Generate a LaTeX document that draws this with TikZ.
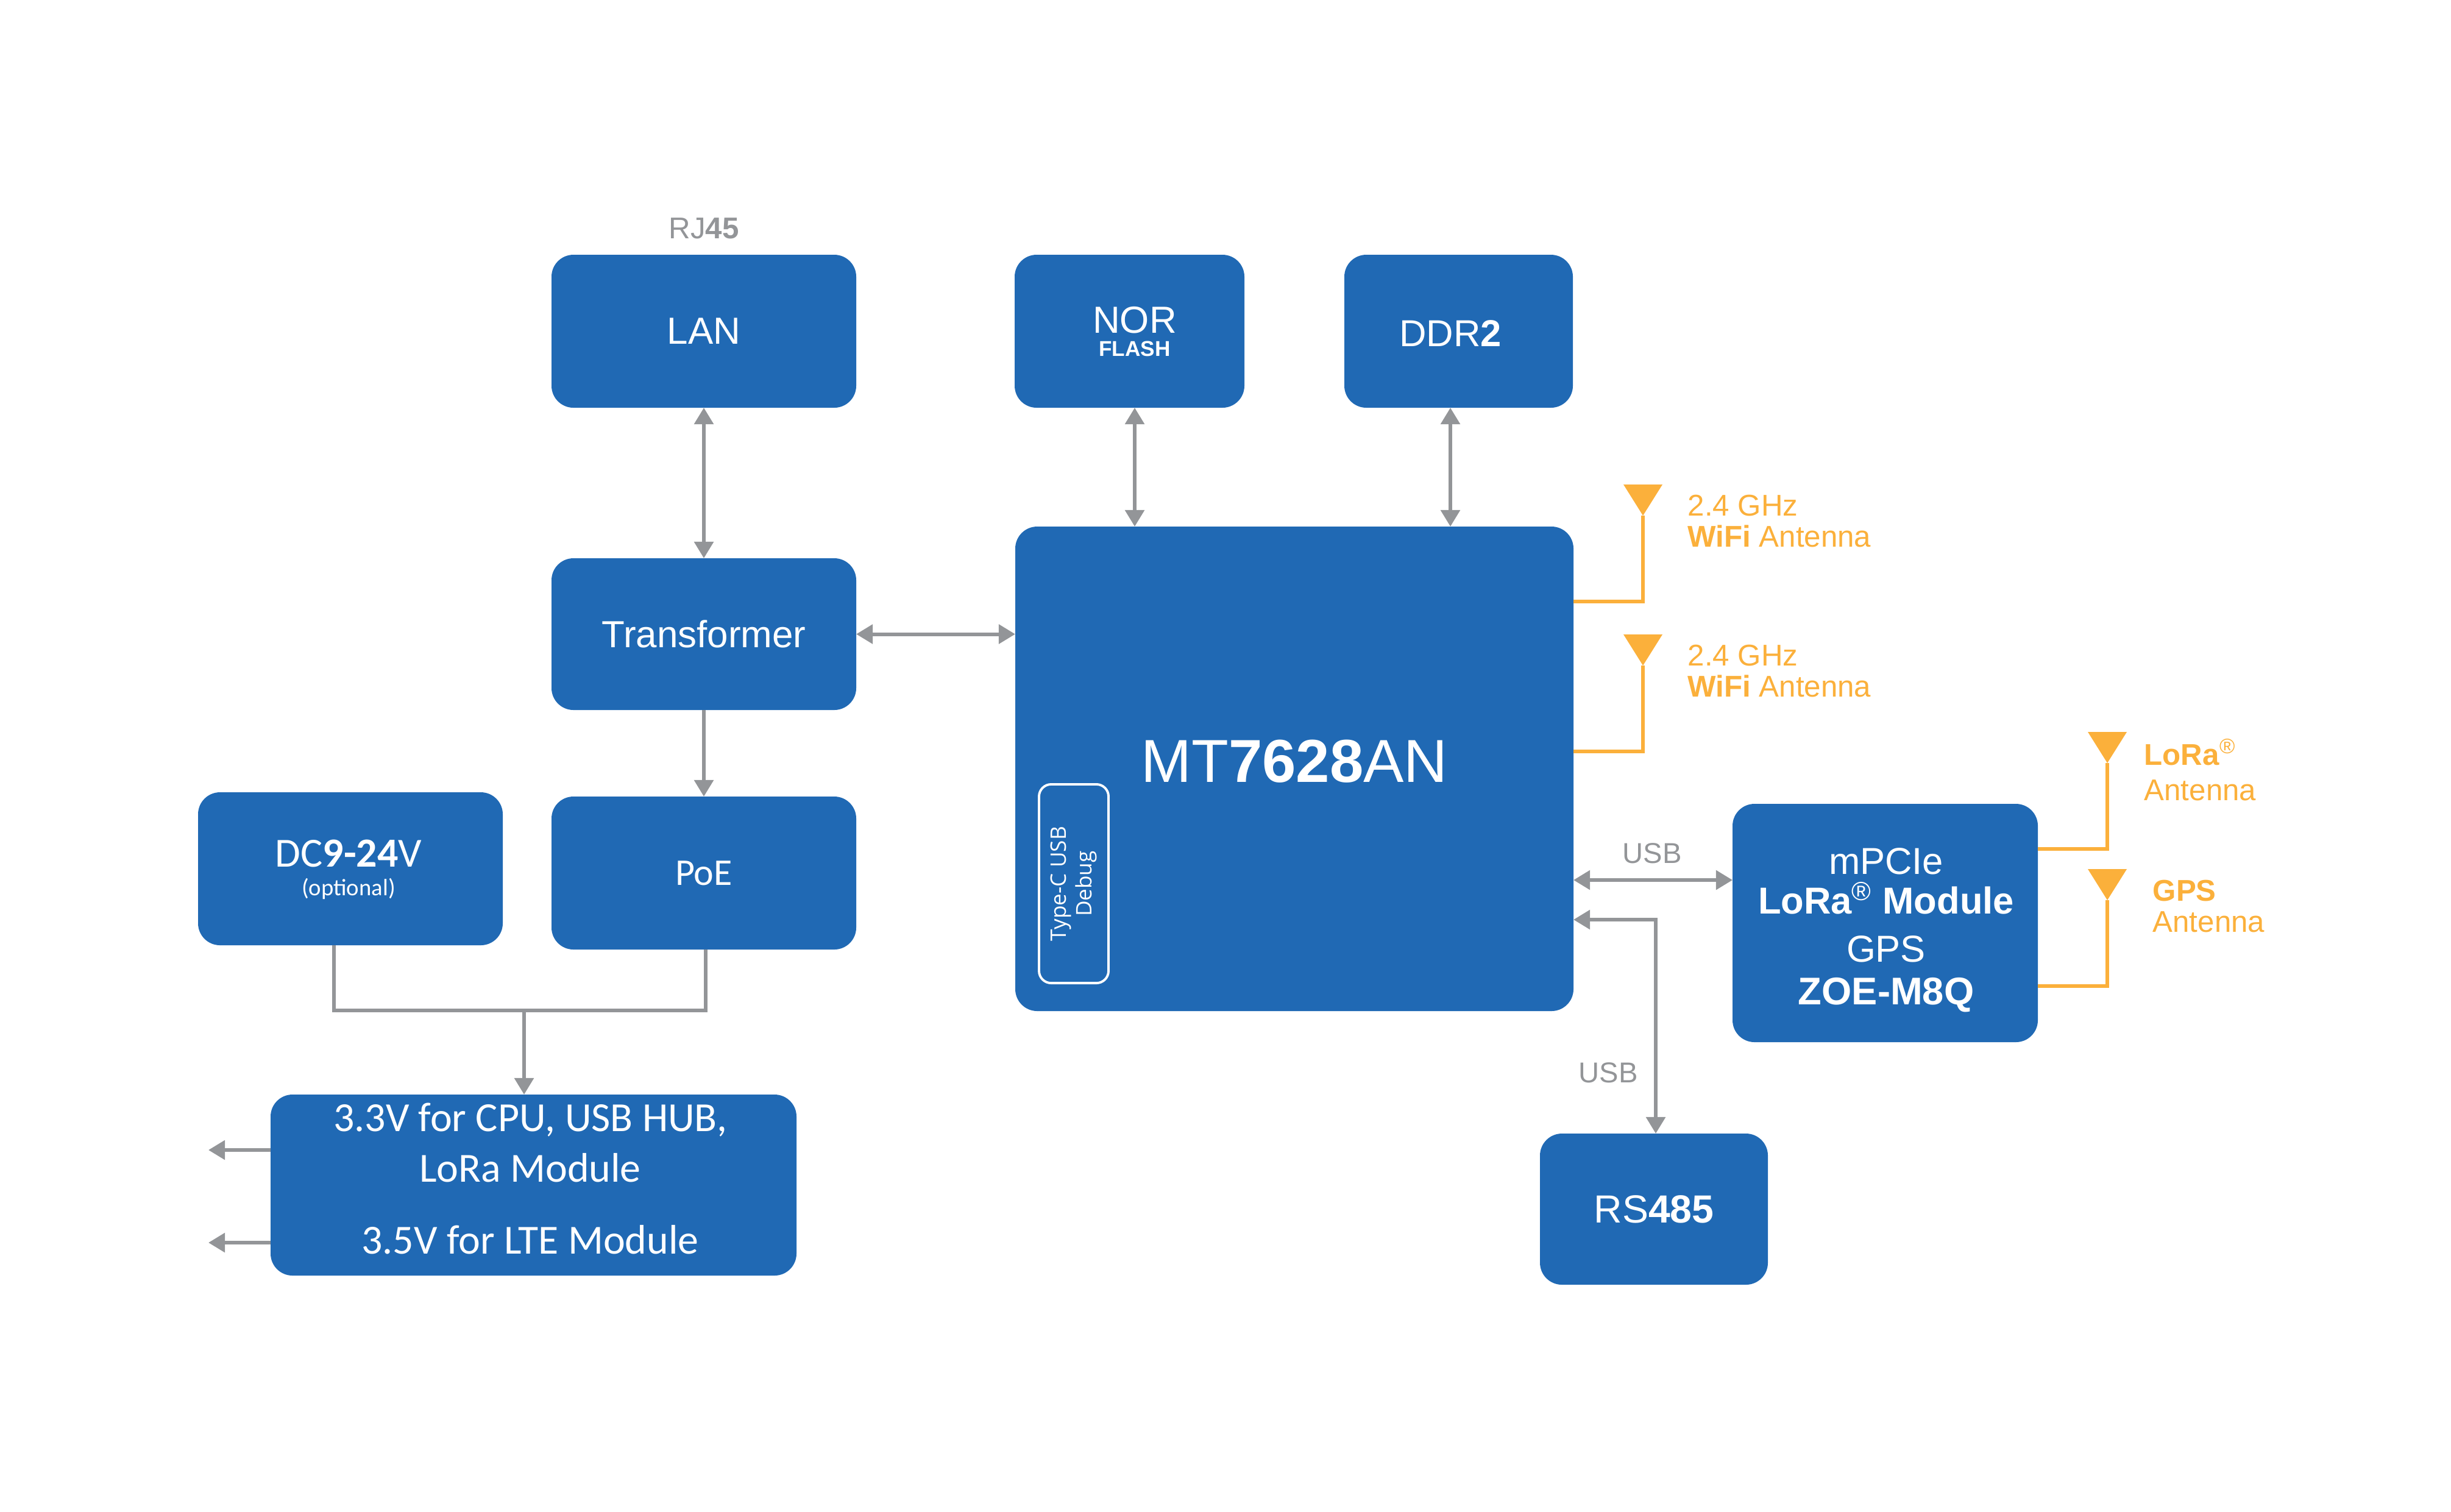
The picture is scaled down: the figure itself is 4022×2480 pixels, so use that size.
\documentclass[tikz,border=0pt]{standalone}
\usepackage{fontspec}
\setmainfont{Liberation Sans}
\newfontfamily\myriad{Carlito}
\newfontfamily\wide{Open Sans}
\usetikzlibrary{arrows.meta}
\usetikzlibrary{positioning}

\definecolor{boxblue}{HTML}{2069B4}
\definecolor{linkgray}{HTML}{939598}
\definecolor{antorange}{HTML}{FBB03B}

\newcommand{\fs}[1]{\fontsize{#1}{#1}\selectfont}
\newcommand{\reg}{{\normalfont\textsuperscript{\textregistered}}}

\tikzset{
  blockbox/.style={fill=boxblue,text=white,rounded corners=0.36cm,inner sep=0pt,outer sep=0pt,align=center,font=\fs{17.6}},
  blocktext/.style={text=white,inner sep=0pt,align=center},
  linkline/.style={draw=linkgray,line width=1.7pt,>={Triangle[length=7.7pt,width=8.8pt]}},
  antline/.style={draw=antorange,line width=1.6pt},
  anttext/.style={text=antorange,inner sep=0pt,align=left,anchor=west},
  graytext/.style={text=linkgray,inner sep=0pt}
}

\begin{document}
\begin{tikzpicture}[x=0.01cm,y=-0.01cm]
  \useasboundingbox (0,0) rectangle (4022,2480);

  %draw boxes
  \foreach \name/\xa/\ya/\xb/\yb/\txt in {lan/905/418/1405/669/LAN,flash/1665/418/2042/669/,ddr/2206/418/2581/669/,
      trans/905/916/1405/1165/Transformer,mt/1666/864/2582/1659/,dc/325/1300/825/1551/,
      poe/905/1307/1405/1558/{\myriad PoE},power/444/1796/1307/2093/,pcie/2843/1319/3344/1710/,
      rs/2527/1860/2901/2108/{\fs{18.3}RS\textbf{485}}}{
    \node[blockbox,minimum width={(\xb-\xa)*0.01cm},minimum height={(\yb-\ya)*0.01cm}] (\name) at ({(\xa+\xb)/2},{(\ya+\yb)/2}) {\txt};
  }

  %text on the boxes
  \foreach \name/\x/\y/\txt in {flashtxt/1862/544/{\fs{17.6}NOR\\[-1.2pt]\textbf{FLASH}},ddrtxt/2380/547/{\fs{17.5}DDR\textbf{2}},
      mttxt/2124/1249/{\fs{28.3}MT\textbf{7628}AN},
      dctxt/572/1400/{\myriad\fs{19.3}DC\textbf{9-24}V},opttxt/572/1458/{\myriad\fs{11}(optional)},
      cputxt/870/1838/{\myriad\fs{19.3}3.3V for CPU, USB HUB,},loratxt/870/1916/{\myriad\fs{19.3}LoRa Module},
      ltetxt/870/2034/{\myriad\fs{19.3}3.5V for LTE Module},
      mpcietxt/3095/1413/{\fs{17.5}mPCIe},lmodtxt/3095/1474/{\fs{17.5}\textbf{LoRa\reg\ Module}},
      gpstxt/3095/1557/{\fs{17.5}GPS},zoetxt/3095/1633/{\fs{18}\textbf{ZOE-M8Q}}}{
    \node[blocktext] (\name) at (\x,\y) {\txt};
  }

  %usb debug port
  \node[draw=white,line width=1.1pt,rounded corners=0.2cm,rotate=90,minimum width=3.26cm,minimum height=1.14cm,
        inner sep=0pt,text=white,align=center,font=\wide\fs{10}] (typec) at (1762,1450) {Type-C USB\\[2pt]Debug};

  %gray labels
  \node[graytext,font=\fs{14}] (rjlabel) at (1155,375) {RJ\textbf{45}};
  \node[graytext,font=\fs{13.4}] (usba) at (2711,1400) {USB};
  \node[graytext,font=\fs{13.4}] (usbb) at (2639,1760) {USB};

  %connectors
  \draw[linkline,<->] (lan.south) -- (trans.north);
  \draw[linkline,<->] (1862,0 |- flash.south) -- (1862,0 |- mt.north);
  \draw[linkline,<->] (2380,0 |- ddr.south) -- (2380,0 |- mt.north);
  \draw[linkline,<->] (trans.east) -- (trans.east -| mt.west);
  \draw[linkline,->] (trans.south) -- (poe.north);
  \draw[linkline,<->] (mt.east |- 0,1444) -- (pcie.west |- 0,1444);
  \draw[linkline,<->] (mt.east |- 0,1509) -| (2717,0 |- rs.north);

  \coordinate (join) at (860,1658);
  \draw[linkline] (548,0 |- dc.south) |- (1158,0 |- join) -- (1158,0 |- poe.south);
  \draw[linkline,->] (join) -- (join |- power.north);
  \foreach \name/\y in {outa/1887,outb/2039}{
    \coordinate (\name) at (342,\y);
    \draw[linkline,->] (power.west |- \name) -- (\name);
  }

  %antennas
  \foreach \name/\src/\x/\ya/\yw in {anta/mt/2696/795/987,antb/mt/2696/1041/1233,antc/pcie/3458/1201/1393,antd/pcie/3458/1426/1618}{
    \coordinate (\name) at (\x,\ya+51);
    \fill[antorange] (\x-32,\ya) -- (\x+32,\ya) -- (\name) -- cycle;
    \draw[antline] (\name) |- (\src.east |- 0,\yw);
  }
  \node[anttext,font=\fs{14}] (wifia) at (2769,855) {2.4 GHz\\[0.5pt]\textbf{WiFi} Antenna};
  \node[anttext,font=\fs{14}] (wifib) at (2769,1101) {2.4 GHz\\[0.5pt]\textbf{WiFi} Antenna};
  \node[anttext,font=\fs{14}] (loralabel) at (3518,1263) {\textbf{LoRa}\reg\\[2.5pt]Antenna};
  \node[anttext,font=\fs{14}] (gpslabel) at (3532,1487) {\textbf{GPS}\\[0.3pt]Antenna};
\end{tikzpicture}
\end{document}
